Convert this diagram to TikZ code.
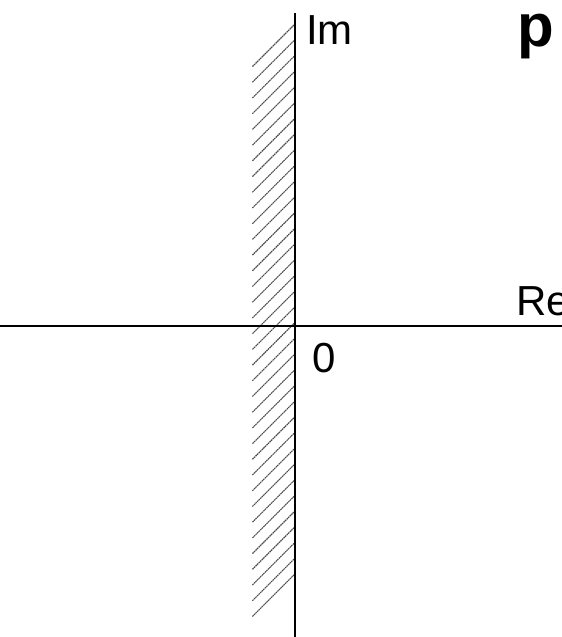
\documentclass[tikz,border=0pt]{standalone}
\usepackage{fontspec}
\setmainfont{Liberation Sans}
\begin{document}
\begin{tikzpicture}[x=1pt,y=-1pt,
  axis/.style={line width=1.8pt,black},
  hatch/.style={line width=1.1pt,black!70,dash pattern=on 1.6pt off 0.6pt},
  lbl/.style={inner sep=0pt,anchor=base west,font=\fontsize{42}{42}\selectfont}]
\useasboundingbox (0,0) rectangle (562,637);
\foreach \i in {0,...,35}{
  \draw[hatch] (294,{25+\i*15.71}) -- (252,{67+\i*15.71});
}
\coordinate (ytop) at (295,13);
\coordinate (ybot) at (295,637);
\coordinate (xl) at (0,326);
\coordinate (xr) at (562,326);
\draw[axis] (ytop) -- (ybot);
\draw[axis] (xl) -- (xr);
\node[lbl] (im) at (306,44) {Im};
\node[lbl] (re) at (516,315) {Re};
\node[lbl] (zero) at (312,372) {0};
\node[lbl,font=\fontsize{60}{60}\selectfont\bfseries] (p) at (517,46) {p};
\end{tikzpicture}
\end{document}
